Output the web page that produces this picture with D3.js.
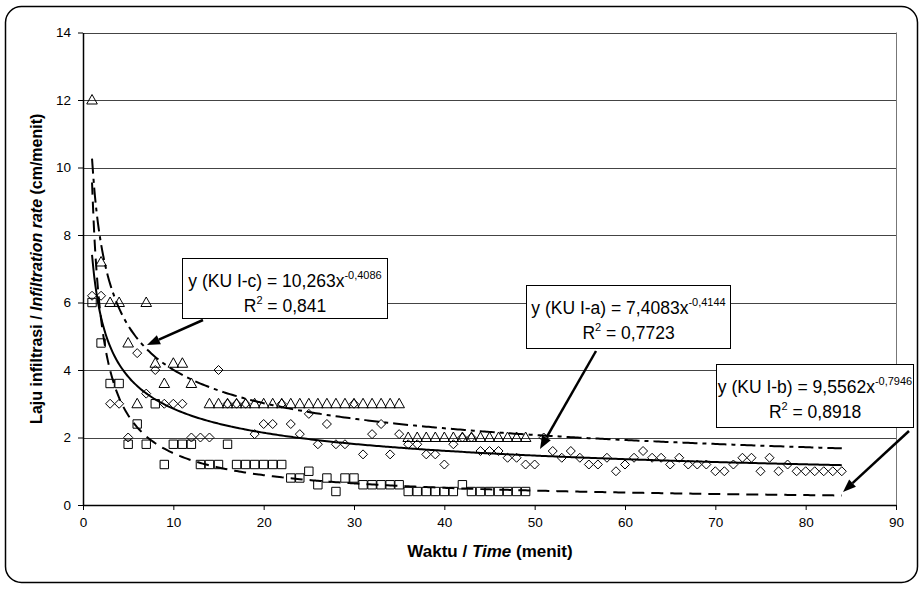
<!DOCTYPE html>
<html>
<head>
<meta charset="utf-8">
<script src="https://cdn.jsdelivr.net/npm/d3@7"></script>
<style>
  body { margin: 0; background: #fff; }
  text { font-family: "Liberation Sans", Arial, sans-serif; fill: #000; }
</style>
</head>
<body>
<div id="chart"></div>
<script>
// observed values (minutes / cm per minute)
const timeA = d3.range(1, 85);
const rateA = [6.2, 6.2, 3.0, 3.0, 2.0, 4.5, 3.3, 4.0, 3.0, 3.0,
               3.0, 2.0, 2.0, 2.0, 4.0, 3.0, 3.0, 3.0, 2.1, 2.4,
               2.4, 3.0, 2.4, 2.1, 2.7, 1.8, 2.4, 1.8, 1.8, 3.0,
               1.5, 2.1, 2.4, 1.5, 2.1, 1.8, 1.8, 1.5, 1.5, 1.2,
               1.8, 2.0, 2.0, 1.6, 1.6, 1.6, 1.4, 1.4, 1.2, 1.2,
               2.0, 1.6, 1.4, 1.6, 1.4, 1.2, 1.2, 1.4, 1.0, 1.2,
               1.4, 1.6, 1.4, 1.4, 1.2, 1.4, 1.2, 1.2, 1.2, 1.0,
               1.0, 1.2, 1.4, 1.4, 1.0, 1.4, 1.0, 1.2, 1.0, 1.0,
               1.0, 1.0, 1.0, 1.0];

const timeB = d3.range(1, 50);
const rateB = [6.0, 4.8, 3.6, 3.6, 1.8, 2.4, 1.8, 3.0, 1.2, 1.8,
               1.8, 1.8, 1.2, 1.2, 1.2, 1.8, 1.2, 1.2, 1.2, 1.2,
               1.2, 1.2, 0.8, 0.8, 1.0, 0.6, 0.8, 0.4, 0.8, 0.8,
               0.6, 0.6, 0.6, 0.6, 0.6, 0.4, 0.4, 0.4, 0.4, 0.4,
               0.4, 0.6, 0.4, 0.4, 0.4, 0.4, 0.4, 0.4, 0.4];

const timeC = [1, 2, 3, 4, 5, 6, 7, 8, 9, 10, 11, 12,
               14, 15, 16, 17, 18, 19, 20, 21, 22, 23, 24, 25, 26, 27, 28, 29, 30, 31, 32, 33, 34, 35,
               36, 37, 38, 39, 40, 41, 42, 43, 44, 45, 46, 47, 48, 49];
const rateC = [12.0, 7.2, 6.0, 6.0, 4.8, 3.0, 6.0, 4.2, 3.6, 4.2, 4.2, 3.6,
               3.0, 3.0, 3.0, 3.0, 3.0, 3.0, 3.0, 3.0, 3.0, 3.0, 3.0, 3.0, 3.0, 3.0, 3.0, 3.0, 3.0, 3.0, 3.0, 3.0, 3.0, 3.0,
               2.0, 2.0, 2.0, 2.0, 2.0, 2.0, 2.0, 2.0, 2.0, 2.0, 2.0, 2.0, 2.0, 2.0];

// power trendlines y = a * x^b, as printed on the chart
const fitNames = ["KU I-a", "KU I-b", "KU I-c"];
const fitA = [7.4083, 9.5562, 10.263];
const fitB = [-0.4144, -0.7946, -0.4086];
const fitR2 = ["0,7723", "0,8918", "0,841"];
const fitExpLabel = ["-0,4144", "-0,7946", "-0,4086"];
const fitCoefLabel = ["7,4083", "9,5562", "10,263"];

const xTicks = d3.range(0, 91, 10);
const yTicks = d3.range(0, 15, 2);

const svgWidth = 924;
const svgHeight = 590;

const svg = d3.select("#chart")
    .append("svg")
    .attr("width", svgWidth)
    .attr("height", svgHeight);

// outer chart frame
svg.append("rect")
    .attr("x", 5.5).attr("y", 6.5)
    .attr("width", 912).attr("height", 576)
    .attr("rx", 16).attr("ry", 16)
    .attr("fill", "#fff")
    .attr("stroke", "#000")
    .attr("stroke-width", 1.5);

const xScale = d3.scaleLinear().domain([0, 90]).range([83, 896]);
const yScale = d3.scaleLinear().domain([0, 14]).range([505, 32.5]);

// gridlines
svg.append("g")
    .selectAll("line")
    .data(yTicks.filter(d => d > 0))
    .enter()
    .append("line")
    .attr("x1", xScale(0)).attr("x2", xScale(90))
    .attr("y1", d => Math.round(yScale(d)) + 0.5)
    .attr("y2", d => Math.round(yScale(d)) + 0.5)
    .attr("stroke", "#444")
    .attr("stroke-width", 1);

// right border of the plot area
svg.append("line")
    .attr("x1", xScale(90) + 0.5).attr("x2", xScale(90) + 0.5)
    .attr("y1", yScale(14)).attr("y2", yScale(0))
    .attr("stroke", "#777");

// axes
const bottomAxis = d3.axisBottom(xScale).tickValues(xTicks).tickSize(5).tickSizeOuter(0).tickPadding(7);
const leftAxis = d3.axisLeft(yScale).tickValues(yTicks).tickSize(5).tickSizeOuter(0).tickPadding(7);

const xAxis = svg.append("g")
    .attr("transform", `translate(0, ${yScale(0)})`)
    .call(bottomAxis);
const yAxis = svg.append("g")
    .attr("transform", `translate(${xScale(0)}, 0)`)
    .call(leftAxis);

[xAxis, yAxis].forEach(ax => {
    ax.select(".domain").attr("stroke", "#000").attr("stroke-width", 1.5);
    ax.selectAll(".tick line").attr("stroke", "#000");
    ax.selectAll(".tick text")
        .attr("font-family", "Liberation Sans, Arial, sans-serif")
        .attr("font-size", 13.5)
        .attr("fill", "#000");
});

// marker shapes
function diamondPath(cx, cy) {
    const r = 4.5;
    return `M${cx},${cy - r}L${cx + r},${cy}L${cx},${cy + r}L${cx - r},${cy}Z`;
}
function squarePath(cx, cy) {
    const r = 4.2;
    return `M${cx - r},${cy - r}H${cx + r}V${cy + r}H${cx - r}Z`;
}
function trianglePath(cx, cy) {
    return `M${cx},${cy - 5.5}L${cx + 5.3},${cy + 4}L${cx - 5.3},${cy + 4}Z`;
}

const seriesList = [
    { t: timeA, v: rateA, shape: diamondPath },
    { t: timeB, v: rateB, shape: squarePath },
    { t: timeC, v: rateC, shape: trianglePath }
];

seriesList.forEach(s => {
    svg.append("g")
        .selectAll("path")
        .data(s.t.map((t, i) => [t, s.v[i]]))
        .enter()
        .append("path")
        .attr("d", d => s.shape(xScale(d[0]), yScale(d[1])))
        .attr("fill", "none")
        .attr("stroke", "#000")
        .attr("stroke-width", 1);
});

// trendlines
const dashes = [null, "12,7", "15,5,4,5"];
const fitLine = d3.line()
    .x(d => xScale(d[0]))
    .y(d => yScale(d[1]))
    .curve(d3.curveMonotoneX);

fitA.forEach((a, i) => {
    const pts = d3.range(1, 84.001, 0.25).map(x => [x, a * Math.pow(x, fitB[i])]);
    svg.append("path")
        .datum(pts)
        .attr("d", fitLine)
        .attr("fill", "none")
        .attr("stroke", "#000")
        .attr("stroke-width", 2)
        .attr("stroke-dasharray", dashes[i]);
});

// equation boxes and arrows
const boxes = [
    { fit: 2, x: 182.5, y: 258.5, w: 205, h: 60, from: [203, 320], to: [147, 345] },
    { fit: 0, x: 526.5, y: 285.5, w: 204, h: 63, from: [596, 351], to: [540, 449] },
    { fit: 1, x: 716.5, y: 364.5, w: 197, h: 63, from: [909, 431], to: [843, 492] }
];

boxes.forEach(b => {
    const i = b.fit;
    svg.append("rect")
        .attr("x", b.x).attr("y", b.y)
        .attr("width", b.w).attr("height", b.h)
        .attr("fill", "#fff")
        .attr("stroke", "#000")
        .attr("stroke-width", 1);

    const cx = b.x + b.w / 2;
    const line1 = svg.append("text")
        .attr("x", cx).attr("y", b.y + 28)
        .attr("text-anchor", "middle")
        .attr("font-size", 17.5);
    line1.append("tspan").text(`y (${fitNames[i]}) = ${fitCoefLabel[i]}x`);
    line1.append("tspan").attr("dy", -8).attr("font-size", 11).text(fitExpLabel[i]);

    const line2 = svg.append("text")
        .attr("x", cx).attr("y", b.y + 53)
        .attr("text-anchor", "middle")
        .attr("font-size", 17.5);
    line2.append("tspan").text("R");
    line2.append("tspan").attr("dy", -8).attr("font-size", 11).text("2");
    line2.append("tspan").attr("dy", 8).text(` = ${fitR2[i]}`);

    // arrow
    const [x1, y1] = b.from;
    const [x2, y2] = b.to;
    const ang = Math.atan2(y2 - y1, x2 - x1);
    const len = 13, half = 5;
    const bx = x2 - len * Math.cos(ang), by = y2 - len * Math.sin(ang);
    svg.append("line")
        .attr("x1", x1).attr("y1", y1)
        .attr("x2", bx).attr("y2", by)
        .attr("stroke", "#000")
        .attr("stroke-width", 2.5);
    svg.append("path")
        .attr("d", `M${x2},${y2}L${bx - half * Math.sin(ang)},${by + half * Math.cos(ang)}L${bx + half * Math.sin(ang)},${by - half * Math.cos(ang)}Z`)
        .attr("fill", "#000");
});

// axis titles
const xTitle = svg.append("text")
    .attr("x", 490).attr("y", 557)
    .attr("text-anchor", "middle")
    .attr("font-size", 17)
    .attr("font-weight", "bold");
xTitle.append("tspan").text("Waktu / ");
xTitle.append("tspan").attr("font-style", "italic").text("Time");
xTitle.append("tspan").text(" (menit)");

const yTitle = svg.append("text")
    .attr("transform", `translate(42, ${yScale(7)}) rotate(-90)`)
    .attr("text-anchor", "middle")
    .attr("font-size", 16)
    .attr("font-weight", "bold");
yTitle.append("tspan").text("Laju infiltrasi / ");
yTitle.append("tspan").attr("font-style", "italic").text("Infiltration rate");
yTitle.append("tspan").text(" (cm/menit)");
</script>
</body>
</html>
